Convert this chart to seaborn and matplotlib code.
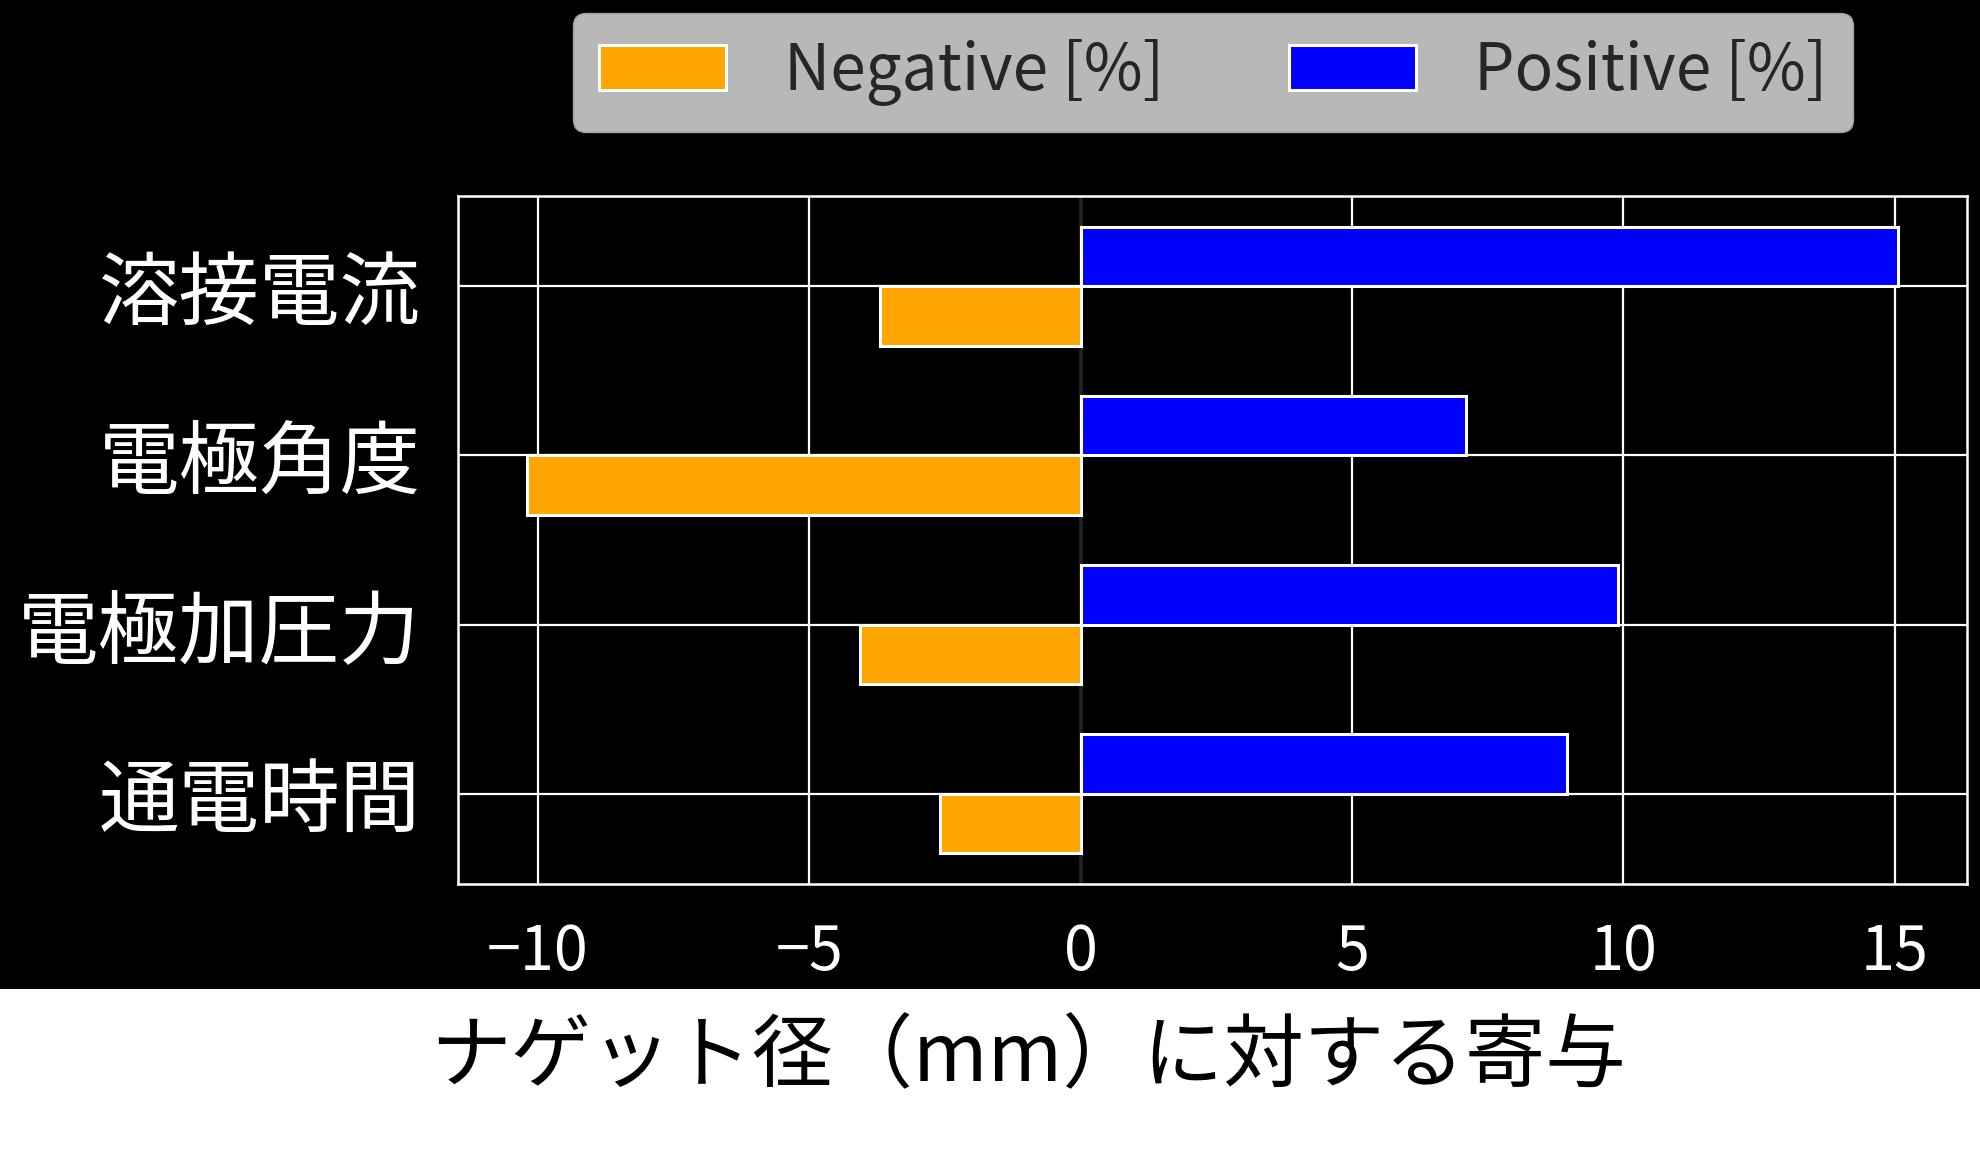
import pandas as pd
import matplotlib
matplotlib.use("Agg")
import matplotlib.pyplot as plt
import seaborn as sns
from matplotlib.patches import Rectangle

# ===========================
# Data
# ===========================

factors = ["溶接電流", "電極角度", "電極加圧力", "通電時間"]
negative = [-3.69, -10.21, -4.06, -2.59]
positive = [15.07, 7.10, 9.90, 8.96]
series_names = ["Negative [%]", "Positive [%]"]
series_colors = ["#FFA500", "#0000FF"]

df = pd.DataFrame({
    "factor": factors * 2,
    "value": negative + positive,
    "series": [series_names[0]] * len(factors) + [series_names[1]] * len(factors),
})

# ===========================
# Style
# ===========================

sns.set_style("ticks")
plt.rcParams["font.family"] = ["Noto Sans CJK JP", "DejaVu Sans"]
plt.rcParams["axes.unicode_minus"] = True

fig = plt.figure(figsize=(19.8, 11.55), dpi=100, facecolor="white")

# black band behind the chart, white strip for the label
fig.patches.append(Rectangle((0, 0.1437), 1, 1 - 0.1437, transform=fig.transFigure,
                             facecolor="black", edgecolor="none", zorder=-10))

ax = fig.add_axes([0.2313, 0.2346, 0.7621, 0.5957])
ax.set_facecolor("black")

# ===========================
# Bars
# ===========================

sns.barplot(
    data=df,
    x="value",
    y="factor",
    hue="series",
    order=factors[::-1],
    hue_order=series_names,
    palette=series_colors,
    orient="h",
    width=0.7,
    edgecolor="white",
    linewidth=2.2,
    saturation=1,
    ax=ax,
)

ax.invert_yaxis()
ax.set_ylim(-0.535, 3.535)
ax.axvline(0, color="#222222", linewidth=1.5, zorder=0.8)

ax.set_axisbelow(True)
ax.grid(True, color="white", linewidth=1.6)
ax.set_xticks([-10, -5, 0, 5, 10, 15])

for s in ax.spines.values():
    s.set_visible(True)
    s.set_color("white")
    s.set_linewidth(1.8)

ax.tick_params(axis="y", length=0, pad=27, labelsize=58, labelcolor="white")
ax.tick_params(axis="x", length=0, pad=27, labelsize=44, labelcolor="white")
ax.set_xlabel("")
ax.set_ylabel("")

# ===========================
# Legend
# ===========================

handles, labels = ax.get_legend_handles_labels()
ax.legend(
    handles, labels,
    ncol=2,
    loc="upper center",
    bbox_to_anchor=(0.6126, 0.9887),
    bbox_transform=fig.transFigure,
    borderaxespad=0,
    fontsize=46,
    facecolor="#b8b8b8",
    edgecolor="#a0a0a0",
    framealpha=1,
    handlelength=2.0,
    handleheight=0.7,
    handletextpad=0.9,
    columnspacing=1.95,
    borderpad=0.4,
)

# ===========================
# X label (below the black band)
# ===========================

fig.text(0.519, 0.084, "ナゲット径（mm）に対する寄与",
         ha="center", va="center", fontsize=58, color="black")

plt.savefig("out.png", dpi=100, facecolor=fig.get_facecolor())
plt.close()
